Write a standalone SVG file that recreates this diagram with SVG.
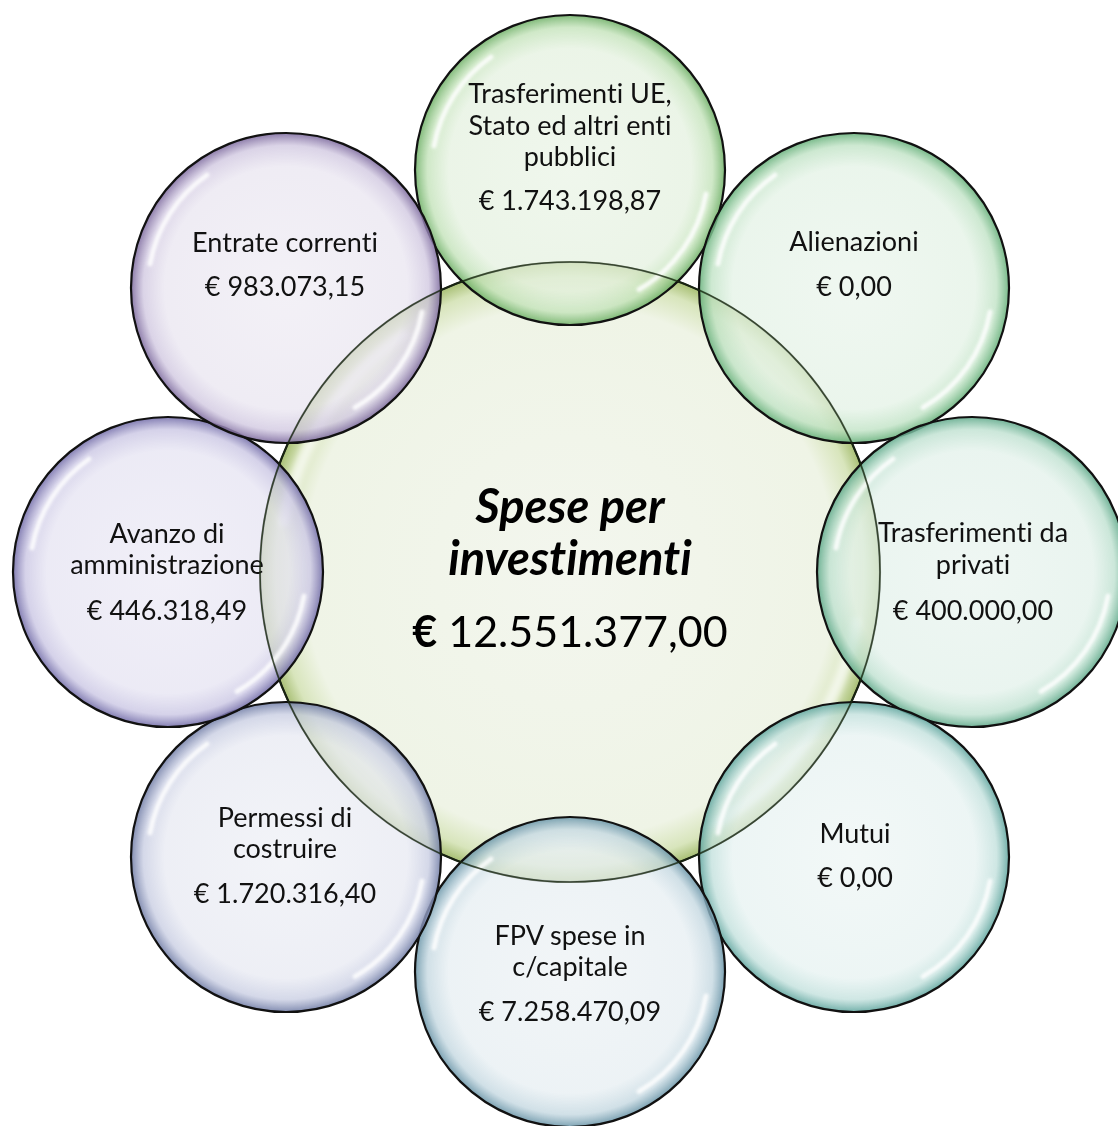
<svg xmlns="http://www.w3.org/2000/svg" width="1118" height="1126" viewBox="0 0 1118 1126">
<defs>
<style>
.rim{stroke:#111;stroke-width:2.2}
.t{font-family:Lato,"Liberation Sans",sans-serif;font-size:27px;fill:#111;text-anchor:middle;font-variant-ligatures:none;font-feature-settings:"liga" 0,"dlig" 0}
.c{font-family:Lato,"Liberation Sans",sans-serif;font-size:47px;fill:#000;text-anchor:middle;font-variant-ligatures:none;font-feature-settings:"liga" 0,"dlig" 0}
.shine{fill:none;stroke:#fff;stroke-width:5;stroke-linecap:round;stroke-opacity:0.85;filter:url(#blur)}
</style>
<filter id="blur" x="-20%" y="-20%" width="140%" height="140%"><feGaussianBlur stdDeviation="1.6"/></filter>
<radialGradient id="gC" cx="50%" cy="50%" r="50%">
<stop offset="0" stop-color="#f3f6ee"/>
<stop offset="0.86" stop-color="#eff4e6"/>
<stop offset="0.95" stop-color="#d8e5bc"/>
<stop offset="1" stop-color="#a8bf74"/>
</radialGradient>
<radialGradient id="g1" cx="50%" cy="50%" r="50%">
<stop offset="0" stop-color="#eaf4e6" stop-opacity="0.72"/>
<stop offset="0.78" stop-color="#e4f1df" stop-opacity="0.72"/>
<stop offset="0.92" stop-color="#c2e2b8" stop-opacity="0.78"/>
<stop offset="1" stop-color="#6fb067" stop-opacity="0.88"/>
</radialGradient>
<radialGradient id="g2" cx="50%" cy="50%" r="50%">
<stop offset="0" stop-color="#eaf5ec" stop-opacity="0.72"/>
<stop offset="0.78" stop-color="#e3f2e5" stop-opacity="0.72"/>
<stop offset="0.92" stop-color="#bfe2c4" stop-opacity="0.78"/>
<stop offset="1" stop-color="#66b07a" stop-opacity="0.88"/>
</radialGradient>
<radialGradient id="g3" cx="50%" cy="50%" r="50%">
<stop offset="0" stop-color="#e9f4ef" stop-opacity="0.72"/>
<stop offset="0.78" stop-color="#e2f1ea" stop-opacity="0.72"/>
<stop offset="0.92" stop-color="#bde0cf" stop-opacity="0.78"/>
<stop offset="1" stop-color="#5fa98a" stop-opacity="0.88"/>
</radialGradient>
<radialGradient id="g4" cx="50%" cy="50%" r="50%">
<stop offset="0" stop-color="#eef6f5" stop-opacity="0.72"/>
<stop offset="0.78" stop-color="#e6f2f1" stop-opacity="0.72"/>
<stop offset="0.92" stop-color="#c1e0dc" stop-opacity="0.78"/>
<stop offset="1" stop-color="#5fa59e" stop-opacity="0.88"/>
</radialGradient>
<radialGradient id="g5" cx="50%" cy="50%" r="50%">
<stop offset="0" stop-color="#edf2f5" stop-opacity="0.72"/>
<stop offset="0.78" stop-color="#e6eef2" stop-opacity="0.72"/>
<stop offset="0.92" stop-color="#c3d7e0" stop-opacity="0.78"/>
<stop offset="1" stop-color="#6a95a8" stop-opacity="0.88"/>
</radialGradient>
<radialGradient id="g6" cx="50%" cy="50%" r="50%">
<stop offset="0" stop-color="#eef0f6" stop-opacity="0.72"/>
<stop offset="0.78" stop-color="#e7e9f2" stop-opacity="0.72"/>
<stop offset="0.92" stop-color="#c8cde2" stop-opacity="0.78"/>
<stop offset="1" stop-color="#717da6" stop-opacity="0.88"/>
</radialGradient>
<radialGradient id="g7" cx="50%" cy="50%" r="50%">
<stop offset="0" stop-color="#eceaf6" stop-opacity="0.72"/>
<stop offset="0.78" stop-color="#e5e3f2" stop-opacity="0.72"/>
<stop offset="0.92" stop-color="#c9c5e3" stop-opacity="0.78"/>
<stop offset="1" stop-color="#726ca8" stop-opacity="0.88"/>
</radialGradient>
<radialGradient id="g8" cx="50%" cy="50%" r="50%">
<stop offset="0" stop-color="#efecf4" stop-opacity="0.72"/>
<stop offset="0.78" stop-color="#e9e5f0" stop-opacity="0.72"/>
<stop offset="0.92" stop-color="#d0c7e0" stop-opacity="0.78"/>
<stop offset="1" stop-color="#7d6a9e" stop-opacity="0.88"/>
</radialGradient>
<g id="sh">
<path class="shine" d="M -136 -24 A 138 138 0 0 1 -79 -113"/>
<path class="shine" d="M 136 24 A 138 138 0 0 1 69 119.5"/>
</g>
</defs>
<rect width="1118" height="1126" fill="#fff"/>

<g id="center">
<circle cx="570" cy="572" r="310" fill="url(#gC)" class="rim"/>
<use href="#sh" transform="translate(570 572) scale(2.1)" opacity="0.8"/>
<text class="c" x="570" y="523" font-weight="bold" font-style="italic">Spese per</text>
<text class="c" x="570" y="575" font-weight="bold" font-style="italic">investimenti</text>
<text class="c" x="570" y="647" style="font-size:43px"><tspan font-weight="bold">€</tspan> 12.551.377,00</text>
</g>

<g id="trasferimenti-ue">
<circle cx="570" cy="170" r="155" fill="url(#g1)" class="rim"/>
<use href="#sh" transform="translate(570 170)"/>
<text class="t" x="570" y="103">Trasferimenti UE,</text>
<text class="t" x="570" y="135">Stato ed altri enti</text>
<text class="t" x="570" y="166">pubblici</text>
<text class="t" x="570" y="210">€ 1.743.198,87</text>
</g>

<g id="alienazioni">
<circle cx="854" cy="288" r="155" fill="url(#g2)" class="rim"/>
<use href="#sh" transform="translate(854 288)"/>
<text class="t" x="854" y="251">Alienazioni</text>
<text class="t" x="854" y="296">€ 0,00</text>
</g>

<g id="trasferimenti-privati">
<circle cx="972" cy="572" r="155" fill="url(#g3)" class="rim"/>
<use href="#sh" transform="translate(972 572)"/>
<text class="t" x="973" y="542">Trasferimenti da</text>
<text class="t" x="973" y="574">privati</text>
<text class="t" x="973" y="620">€ 400.000,00</text>
</g>

<g id="mutui">
<circle cx="854" cy="857" r="155" fill="url(#g4)" class="rim"/>
<use href="#sh" transform="translate(854 857)"/>
<text class="t" x="855" y="843">Mutui</text>
<text class="t" x="855" y="887">€ 0,00</text>
</g>

<g id="fpv">
<circle cx="570" cy="972" r="155" fill="url(#g5)" class="rim"/>
<use href="#sh" transform="translate(570 972)"/>
<text class="t" x="570" y="945">FPV spese in</text>
<text class="t" x="570" y="976">c/capitale</text>
<text class="t" x="570" y="1021">€ 7.258.470,09</text>
</g>

<g id="permessi">
<circle cx="286" cy="857" r="155" fill="url(#g6)" class="rim"/>
<use href="#sh" transform="translate(286 857)"/>
<text class="t" x="285" y="827">Permessi di</text>
<text class="t" x="285" y="858">costruire</text>
<text class="t" x="285" y="903">€ 1.720.316,40</text>
</g>

<g id="avanzo">
<circle cx="168" cy="572" r="155" fill="url(#g7)" class="rim"/>
<use href="#sh" transform="translate(168 572)"/>
<text class="t" x="167" y="543">Avanzo di</text>
<text class="t" x="167" y="574">amministrazione</text>
<text class="t" x="167" y="620">€ 446.318,49</text>
</g>

<g id="entrate-correnti">
<circle cx="286" cy="288" r="155" fill="url(#g8)" class="rim"/>
<use href="#sh" transform="translate(286 288)"/>
<text class="t" x="285" y="252">Entrate correnti</text>
<text class="t" x="285" y="296">€ 983.073,15</text>
</g>

<g id="center-outline">
<circle cx="570" cy="572" r="310" fill="none" stroke="#1a2a10" stroke-width="1.6" stroke-opacity="0.8"/>
</g>
</svg>
